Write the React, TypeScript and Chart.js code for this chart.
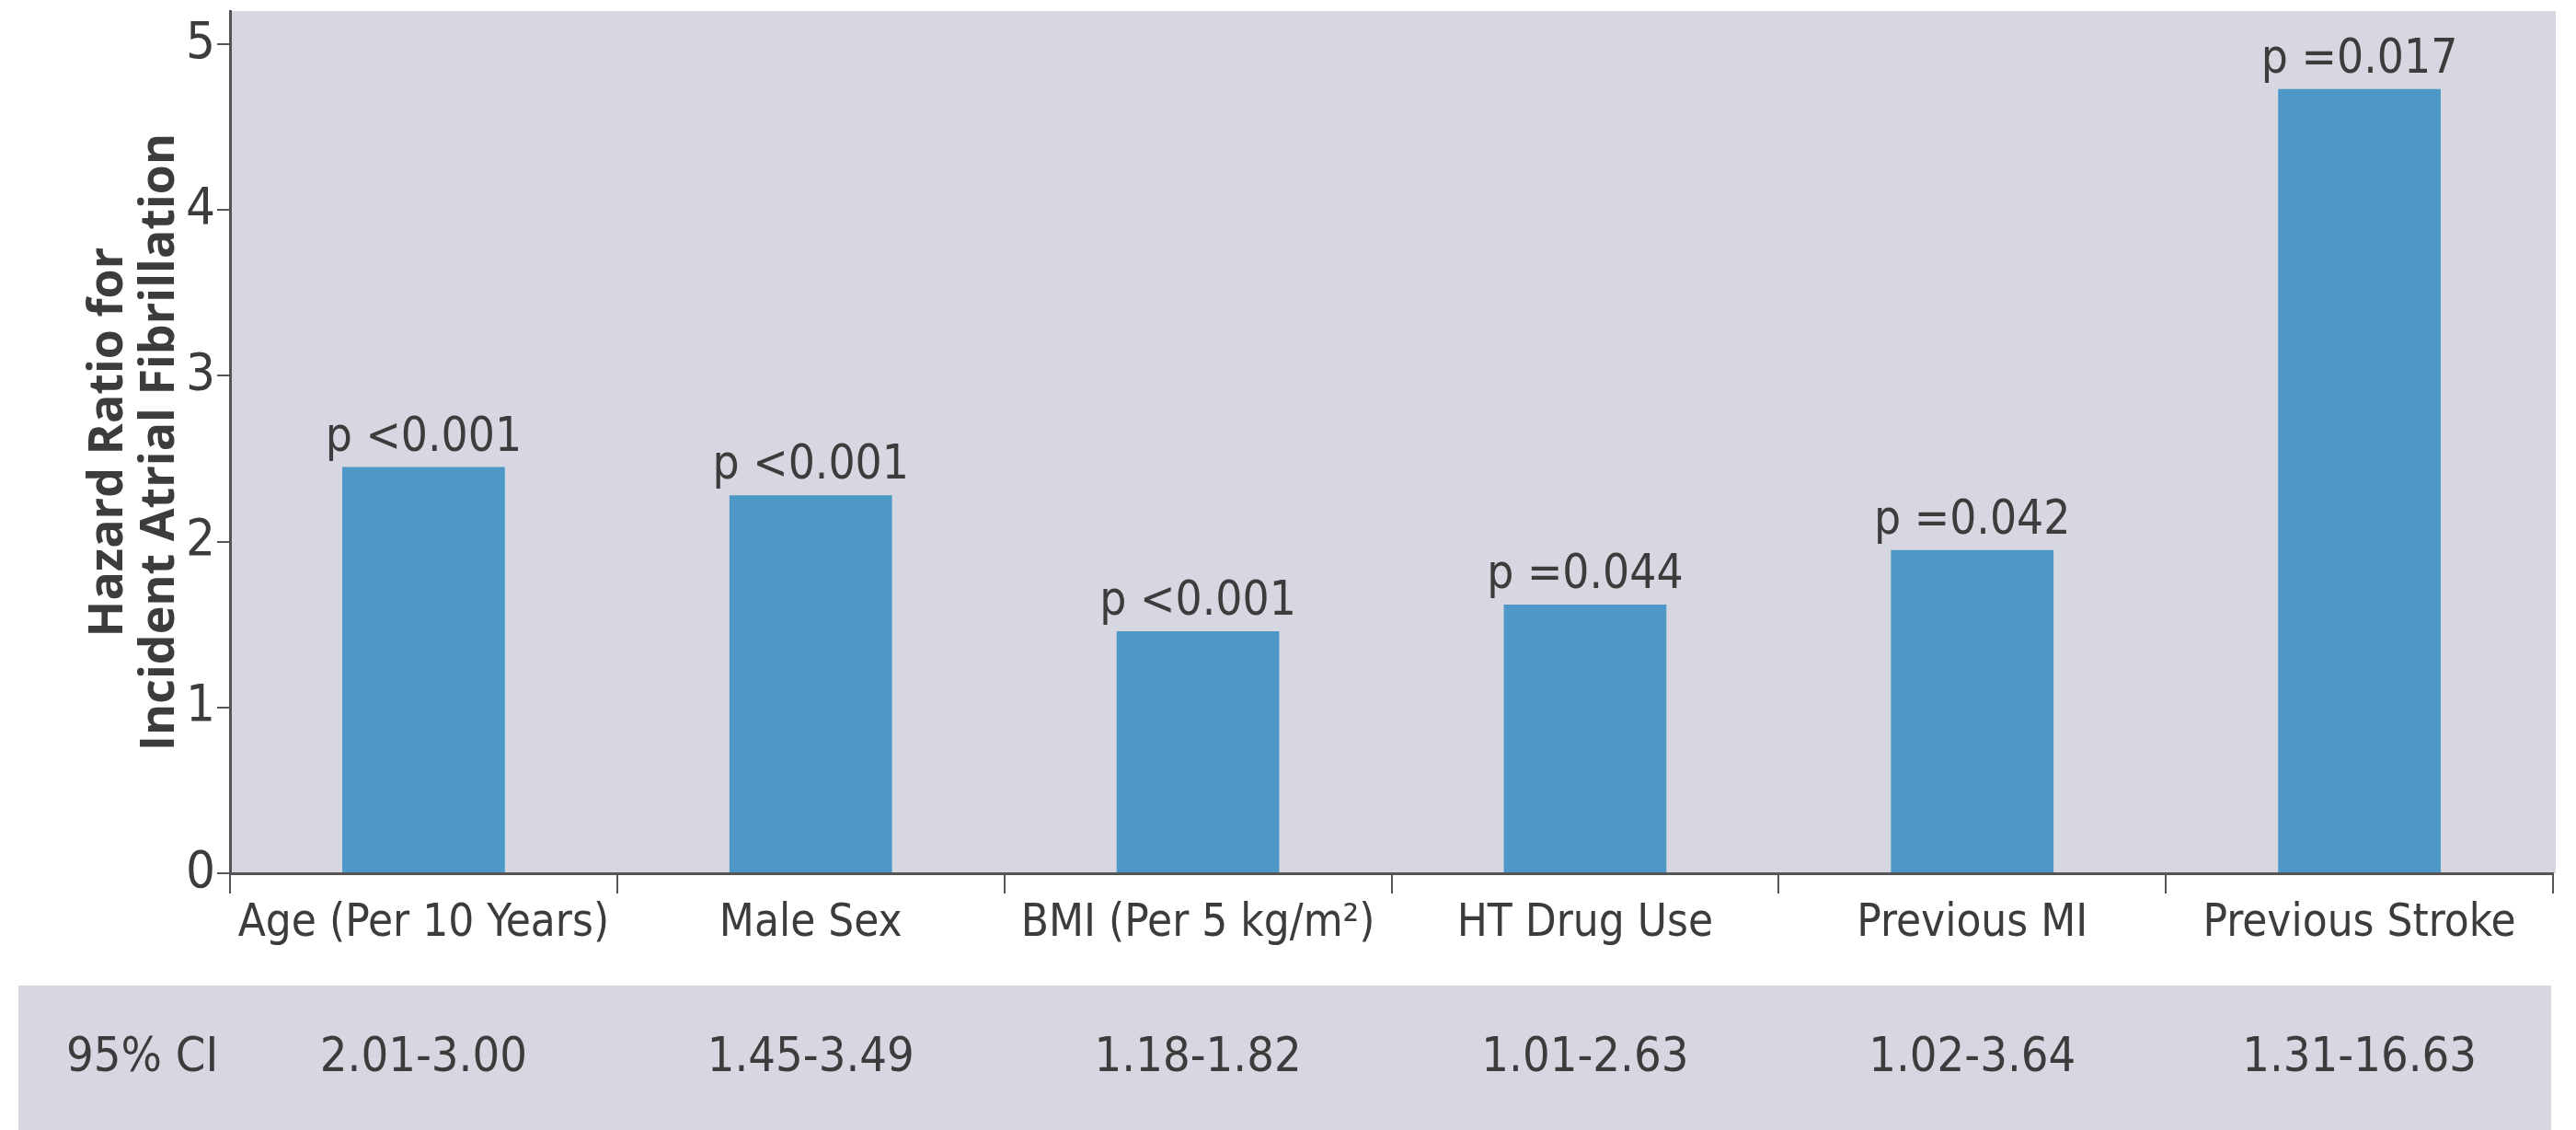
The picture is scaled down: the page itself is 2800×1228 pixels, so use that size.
import { useEffect, useRef } from 'react';
import { Chart, registerables } from 'chart.js';

Chart.register(...registerables);

// ---- data ----
const categories = ['Age (Per 10 Years)', 'Male Sex', 'BMI (Per 5 kg/m²)', 'HT Drug Use', 'Previous MI', 'Previous Stroke'];
const hazardRatios = [2.45, 2.28, 1.46, 1.62, 1.95, 4.73];
const pValueLabels = ['p <0.001', 'p <0.001', 'p <0.001', 'p =0.044', 'p =0.042', 'p =0.017'];
const ciLabels = ['2.01-3.00', '1.45-3.49', '1.18-1.82', '1.01-2.63', '1.02-3.64', '1.31-16.63'];
const ciHeader = '95% CI';
const yTickValues = [0, 1, 2, 3, 4, 5];
const yTitle = ['Hazard Ratio for', 'Incident Atrial Fibrillation'];

// ---- style ----
const W = 2800;
const H = 1228;
const NARROW = "'Liberation Sans Narrow', 'DejaVu Sans Condensed', 'Open Sans', sans-serif";
const BAR = '#4E98C8';
const PLOT_BG = '#D6D7E0';
const TEXT = '#3c3c3c';
const AXIS = '#555555';

export default function App() {
  const ref = useRef<HTMLCanvasElement>(null);

  useEffect(() => {
    const canvas = ref.current;
    if (!canvas) return;

    const decor = {
      id: 'decor',
      beforeDraw(chart: any) {
        const { ctx, chartArea } = chart;
        ctx.save();
        ctx.fillStyle = PLOT_BG;
        ctx.fillRect(chartArea.left, chartArea.top, chartArea.right - chartArea.left + 3, chartArea.bottom - chartArea.top);
        // table band
        ctx.fillRect(20, 1071, 2753, H - 1071);
        ctx.restore();
      },
      afterDraw(chart: any) {
        const { ctx } = chart;
        const xs = chart.scales.x;
        ctx.save();
        ctx.fillStyle = TEXT;
        ctx.textBaseline = 'middle';
        ctx.font = `52px ${NARROW}`;
        ctx.textAlign = 'left';
        ctx.fillText(ciHeader, 72, 1150);
        ctx.textAlign = 'center';
        ciLabels.forEach((t, i) => {
          ctx.fillText(t, xs.getPixelForValue(i), 1150);
        });
        // p-value labels over bars
        const meta = chart.getDatasetMeta(0);
        ctx.font = `51px ${NARROW}`;
        ctx.textBaseline = 'alphabetic';
        meta.data.forEach((bar: any, i: number) => {
          ctx.fillText(pValueLabels[i], bar.x, bar.y - 18);
        });
        ctx.restore();
      },
    };

    const chart = new Chart(canvas, {
      type: 'bar',
      data: {
        labels: categories,
        datasets: [
          {
            data: hazardRatios,
            backgroundColor: BAR,
            borderWidth: 0,
            barPercentage: 0.42,
            categoryPercentage: 1.0,
          },
        ],
      },
      options: {
        responsive: false,
        animation: false,
        devicePixelRatio: 1,
        layout: { padding: { left: 90, right: 25, top: 12, bottom: 159 } },
        plugins: {
          legend: { display: false },
          tooltip: { enabled: false },
        },
        scales: {
          x: {
            offset: true,
            grid: {
              offset: true,
              drawOnChartArea: false,
              tickLength: 22,
              color: AXIS,
              lineWidth: 2,
            },
            border: { color: AXIS, width: 3 },
            ticks: {
              autoSkip: false,
              maxRotation: 0,
              minRotation: 0,
              padding: 4,
              color: TEXT,
              font: { family: NARROW, size: 49 },
            },
            afterFit: (s: any) => {
              s.height = 120;
              s.paddingLeft = 0;
              s.paddingRight = 0;
            },
          },
          y: {
            min: 0,
            max: 5.2,
            afterBuildTicks: (s: any) => {
              s.ticks = yTickValues.map((v) => ({ value: v }));
            },
            ticks: {
              padding: 2,
              color: TEXT,
              font: { family: NARROW, size: 56 },
            },
            grid: {
              drawOnChartArea: false,
              tickLength: 14,
              color: AXIS,
              lineWidth: 2,
            },
            border: { color: AXIS, width: 3 },
            title: {
              display: true,
              text: yTitle,
              color: TEXT,
              font: { family: "'Open Sans', sans-serif", weight: 'bold', size: 52, lineHeight: 1.08 },
              padding: { top: 0, bottom: 0 },
            },
            afterFit: (s: any) => {
              s.width = 160;
              s.paddingTop = 0;
              s.paddingBottom = 0;
            },
          },
        },
      },
      plugins: [decor],
    });

    return () => {
      chart.destroy();
    };
  }, []);

  return (
    <div style={{ position: 'fixed', left: 0, top: 0, width: W, height: H, background: '#ffffff' }}>
      <canvas ref={ref} width={W} height={H} style={{ display: 'block', width: W, height: H }} />
    </div>
  );
}
